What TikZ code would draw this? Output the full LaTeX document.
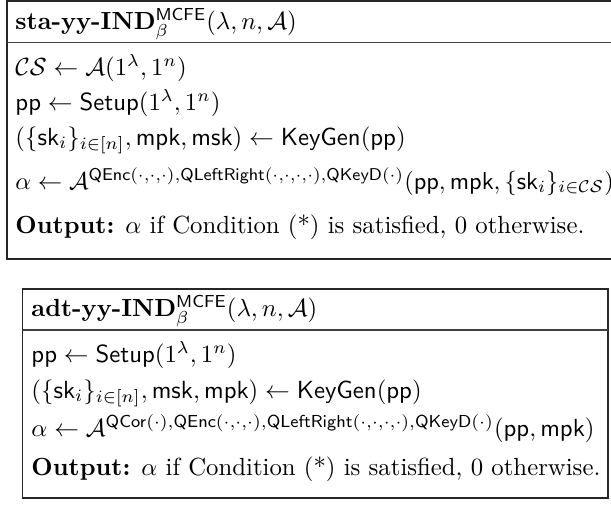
\documentclass[tikz,border=0pt]{standalone}
\usepackage{amsmath}
\begin{document}
\begin{tikzpicture}[x=0.4037pt,y=-0.4037pt,
  row/.style={anchor=base west,inner sep=0pt,font=\normalsize},
  frame/.style={draw=black!85,line width=0.45pt},
  rule/.style={draw=black!75,line width=0.6pt}]
\useasboundingbox (0,0) rectangle (611,510);
% top box
\draw[frame] (7,1) rectangle (640,259);
\draw[rule] (7,42.7) -- (640,42.7);
\node[row] (t0) at (15,29) {\textbf{sta-yy-IND}$^{\mathsf{MCFE}}_{\beta}(\lambda,n,\mathcal{A})$};
\node[row] (t1) at (15,75) {$\mathcal{CS}\leftarrow\mathcal{A}(1^{\lambda},1^{n})$};
\node[row] (t2) at (15,110) {$\mathsf{pp}\leftarrow\mathsf{Setup}(1^{\lambda},1^{n})$};
\node[row] (t3) at (15,145) {$(\{\mathsf{sk}_i\}_{i\in[n]},\mathsf{mpk},\mathsf{msk})\leftarrow\mathsf{KeyGen}(\mathsf{pp})$};
\node[row,scale=0.985] (t4) at (15,189) {$\alpha\leftarrow\mathcal{A}^{\mathsf{QEnc}(\cdot,\cdot,\cdot),\mathsf{QLeftRight}(\cdot,\cdot,\cdot,\cdot),\mathsf{QKeyD}(\cdot)}(\mathsf{pp},\mathsf{mpk},\{\mathsf{sk}_i\}_{i\in\mathcal{CS}})$};
\node[row] (t5) at (15,233) {\textbf{Output:} $\alpha$ if Condition (*) is satisfied, 0 otherwise.};
% bottom box
\draw[frame] (22.5,289) rectangle (608,498);
\draw[rule] (22.5,330) -- (608,330);
\node[row] (b0) at (31,316) {\textbf{adt-yy-IND}$^{\mathsf{MCFE}}_{\beta}(\lambda,n,\mathcal{A})$};
\node[row] (b1) at (31,362) {$\mathsf{pp}\leftarrow\mathsf{Setup}(1^{\lambda},1^{n})$};
\node[row] (b2) at (31,398) {$(\{\mathsf{sk}_i\}_{i\in[n]},\mathsf{msk},\mathsf{mpk})\leftarrow\mathsf{KeyGen}(\mathsf{pp})$};
\node[row] (b3) at (31,436) {$\alpha\leftarrow\mathcal{A}^{\mathsf{QCor}(\cdot),\mathsf{QEnc}(\cdot,\cdot,\cdot),\mathsf{QLeftRight}(\cdot,\cdot,\cdot,\cdot),\mathsf{QKeyD}(\cdot)}(\mathsf{pp},\mathsf{mpk})$};
\node[row] (b4) at (31,475) {\textbf{Output:} $\alpha$ if Condition (*) is satisfied, 0 otherwise.};
\end{tikzpicture}
\end{document}
